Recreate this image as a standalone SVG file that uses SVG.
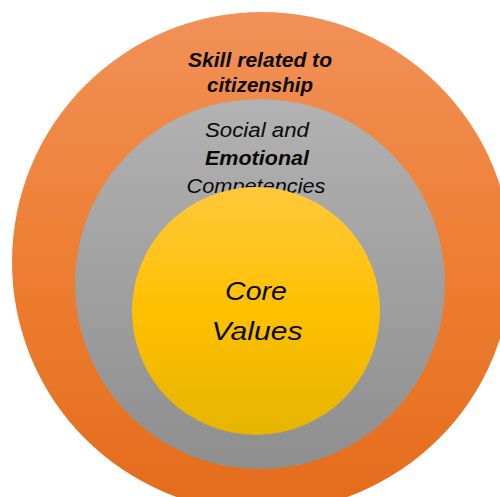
<svg xmlns="http://www.w3.org/2000/svg" width="500" height="497" viewBox="0 0 500 497">
<defs>
<linearGradient id="gOrange" x1="0" y1="0" x2="0" y2="1">
<stop offset="0" stop-color="#F19158"/>
<stop offset="0.5" stop-color="#EE7E32"/>
<stop offset="1" stop-color="#E46C1B"/>
</linearGradient>
<linearGradient id="gGray" x1="0" y1="0" x2="0" y2="1">
<stop offset="0" stop-color="#B2B2B2"/>
<stop offset="1" stop-color="#8E8E8E"/>
</linearGradient>
<linearGradient id="gYellow" x1="0" y1="0" x2="0" y2="1">
<stop offset="0" stop-color="#FFC83C"/>
<stop offset="0.5" stop-color="#FFC000"/>
<stop offset="1" stop-color="#E6B400"/>
</linearGradient>
</defs>
<style>
text{font-family:"Liberation Sans","DejaVu Sans",sans-serif;font-style:italic;fill:#0A0A0A;text-anchor:middle}
.outer{font-weight:bold;font-size:21px}
.mid{font-size:19.5px}
.core{font-size:26px}
</style>
<rect width="500" height="497" fill="#FFFFFF"/>
<g id="outer">
<circle cx="262" cy="262" r="250" fill="url(#gOrange)"/>
<text class="outer" x="260" y="67" textLength="144" lengthAdjust="spacingAndGlyphs">Skill related to</text>
<text class="outer" x="260" y="92" textLength="106" lengthAdjust="spacingAndGlyphs">citizenship</text>
</g>
<g id="middle">
<circle cx="260" cy="284" r="185" fill="url(#gGray)"/>
<text class="mid" x="257" y="137" textLength="104" lengthAdjust="spacingAndGlyphs">Social and</text>
<text class="mid" x="257" y="165" textLength="104" lengthAdjust="spacingAndGlyphs" font-weight="bold">Emotional</text>
<text class="mid" x="256" y="193" textLength="139" lengthAdjust="spacingAndGlyphs">Competencies</text>
</g>
<g id="core">
<circle cx="256" cy="311" r="124" fill="url(#gYellow)"/>
<text class="core" x="256" y="300" textLength="62" lengthAdjust="spacingAndGlyphs">Core</text>
<text class="core" x="257" y="340" textLength="91" lengthAdjust="spacingAndGlyphs">Values</text>
</g>
<g id="connectors"/>
</svg>
